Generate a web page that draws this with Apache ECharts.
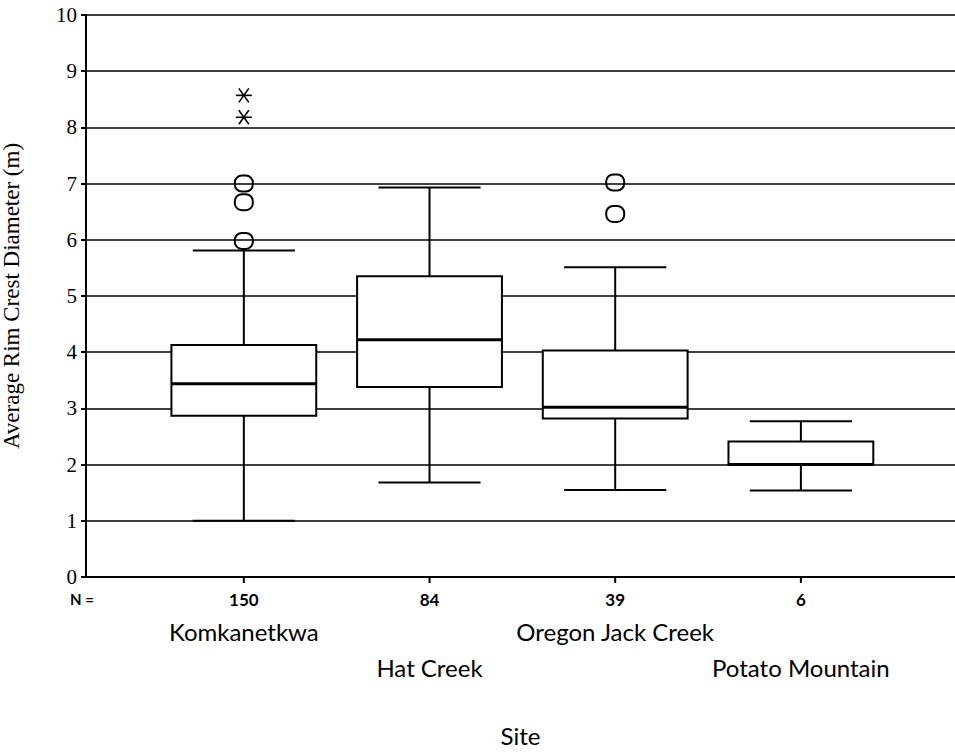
<!DOCTYPE html>
<html><head><meta charset="utf-8">
<script src="https://cdn.jsdelivr.net/npm/echarts@6/dist/echarts.min.js"></script>
<style>html,body{margin:0;padding:0;background:#fff}#c{width:955px;height:752px}</style>
</head><body><div id="c"></div>
<script>
// ---- data ----
const categories = ['Komkanetkwa', 'Hat Creek', 'Oregon Jack Creek', 'Potato Mountain'];
const nCounts = [150, 84, 39, 6];
const whiskerLow = [1.0, 1.68, 1.55, 1.54];
const quartile1 = [2.87, 3.38, 2.82, 2.0];
const medians = [3.44, 4.22, 3.02, 2.0];
const quartile3 = [4.13, 5.35, 4.03, 2.41];
const whiskerHigh = [5.81, 6.93, 5.51, 2.77];
const outlierSite = [1, 1, 1, 3, 3];
const outlierValue = [7.0, 6.67, 5.98, 7.02, 6.46];
const extremeSite = [1, 1];
const extremeValue = [8.57, 8.18];
const yMin = 0, yMax = 10, yStep = 1;
const xAxisTitle = 'Site';
const yAxisTitle = 'Average Rim Crest Diameter (m)';
const nPrefix = 'N =';

// ---- style ----
const FONT = 'Lato, "Noto Sans", sans-serif';
const SERIF = '"Liberation Serif", "DejaVu Serif", serif';
const X_MIN = 0.15, X_MAX = 4.83;
const BOX_W = 0.78, CAP_W = 0.55;

const chart = echarts.init(document.getElementById('c'), null, {renderer: 'svg'});

const boxData = categories.map((c, i) => [i + 1, whiskerLow[i], quartile1[i], medians[i], quartile3[i], whiskerHigh[i]]);
const outData = outlierSite.map((s, i) => [s, outlierValue[i]]);
const extData = extremeSite.map((s, i) => [s, extremeValue[i]]);
const labelData = categories.map((c, i) => [i + 1, 0]);

function line(x1, y1, x2, y2, w) {
  return {type: 'line', shape: {x1, y1, x2, y2}, style: {stroke: '#000', lineWidth: w || 2}};
}

chart.setOption({
  backgroundColor: '#fff',
  animation: false,
  grid: {left: 86, right: 0, top: 15, bottom: 175, containLabel: false, outerBoundsMode: 'none'},
  xAxis: {
    type: 'value', min: X_MIN, max: X_MAX,
    axisLine: {show: true, lineStyle: {color: '#000', width: 2}},
    axisTick: {show: false}, axisLabel: {show: false}, splitLine: {show: false},
    name: xAxisTitle, nameLocation: 'middle', nameGap: 146,
    nameTextStyle: {fontFamily: FONT, fontSize: 24, color: '#000'}
  },
  yAxis: {
    type: 'value', min: yMin, max: yMax, interval: yStep,
    axisLine: {show: true, lineStyle: {color: '#000', width: 2}},
    axisTick: {show: true, length: 5, lineStyle: {color: '#000', width: 2}},
    axisLabel: {color: '#000', fontFamily: SERIF, fontSize: 21, margin: 9},
    splitLine: {show: true, lineStyle: {color: '#000', width: 1.6}},
    name: yAxisTitle, nameLocation: 'middle', nameGap: 63, nameRotate: 90,
    nameTextStyle: {fontFamily: SERIF, fontSize: 23, color: '#000'}
  },
  series: [
    {
      type: 'custom', name: 'boxes', clip: false, data: boxData,
      renderItem: function (params, api) {
        const x = api.value(0);
        const pLow = api.coord([x, api.value(1)]);
        const pQ1 = api.coord([x, api.value(2)]);
        const pMed = api.coord([x, api.value(3)]);
        const pQ3 = api.coord([x, api.value(4)]);
        const pHigh = api.coord([x, api.value(5)]);
        const bh = api.size([BOX_W, 0])[0] / 2;
        const ch = api.size([CAP_W, 0])[0] / 2;
        const cx = pMed[0];
        return {type: 'group', children: [
          line(cx, pHigh[1], cx, pQ3[1]),
          line(cx, pQ1[1], cx, pLow[1]),
          line(cx - ch, pHigh[1], cx + ch, pHigh[1]),
          line(cx - ch, pLow[1], cx + ch, pLow[1]),
          {type: 'rect', shape: {x: cx - bh, y: pQ3[1], width: 2 * bh, height: pQ1[1] - pQ3[1]},
           style: {fill: '#fff', stroke: '#000', lineWidth: 2}},
          line(cx - bh, pMed[1], cx + bh, pMed[1], 3)
        ]};
      }
    },
    {
      type: 'custom', name: 'outliers', clip: false, data: outData,
      renderItem: function (params, api) {
        const p = api.coord([api.value(0), api.value(1)]);
        return {type: 'rect', shape: {x: p[0] - 9, y: p[1] - 8, width: 18, height: 16, r: 7},
                style: {fill: 'none', stroke: '#000', lineWidth: 2}};
      }
    },
    {
      type: 'custom', name: 'extremes', clip: false, data: extData,
      renderItem: function (params, api) {
        const p = api.coord([api.value(0), api.value(1)]);
        return {type: 'group', children: [
          line(p[0] - 8, p[1], p[0] + 8, p[1], 1.6),
          line(p[0] - 5, p[1] - 7, p[0] + 5, p[1] + 7, 1.6),
          line(p[0] - 5, p[1] + 7, p[0] + 5, p[1] - 7, 1.6)
        ]};
      }
    },
    {
      type: 'custom', name: 'labels', clip: false, data: labelData,
      renderItem: function (params, api) {
        const i = params.dataIndex;
        const p = api.coord([api.value(0), api.value(1)]);
        const children = [
          line(p[0], p[1], p[0], p[1] + 6, 2),
          {type: 'text', style: {text: String(nCounts[i]), x: p[0], y: p[1] + 22, align: 'center', verticalAlign: 'middle',
            font: 'bold 17px ' + FONT, fill: '#000'}},
          {type: 'text', style: {text: categories[i], x: p[0], y: p[1] + (i % 2 === 0 ? 54 : 90), align: 'center', verticalAlign: 'middle',
            font: '24px ' + FONT, fill: '#000'}}
        ];
        if (i === 0) {
          const q = api.coord([X_MIN, 0]);
          children.push({type: 'text', style: {text: nPrefix, x: q[0] - 16, y: p[1] + 22, align: 'left', verticalAlign: 'middle',
            font: 'bold 15px ' + FONT, fill: '#000'}});
        }
        return {type: 'group', children};
      }
    }
  ]
});
</script>
</body></html>
